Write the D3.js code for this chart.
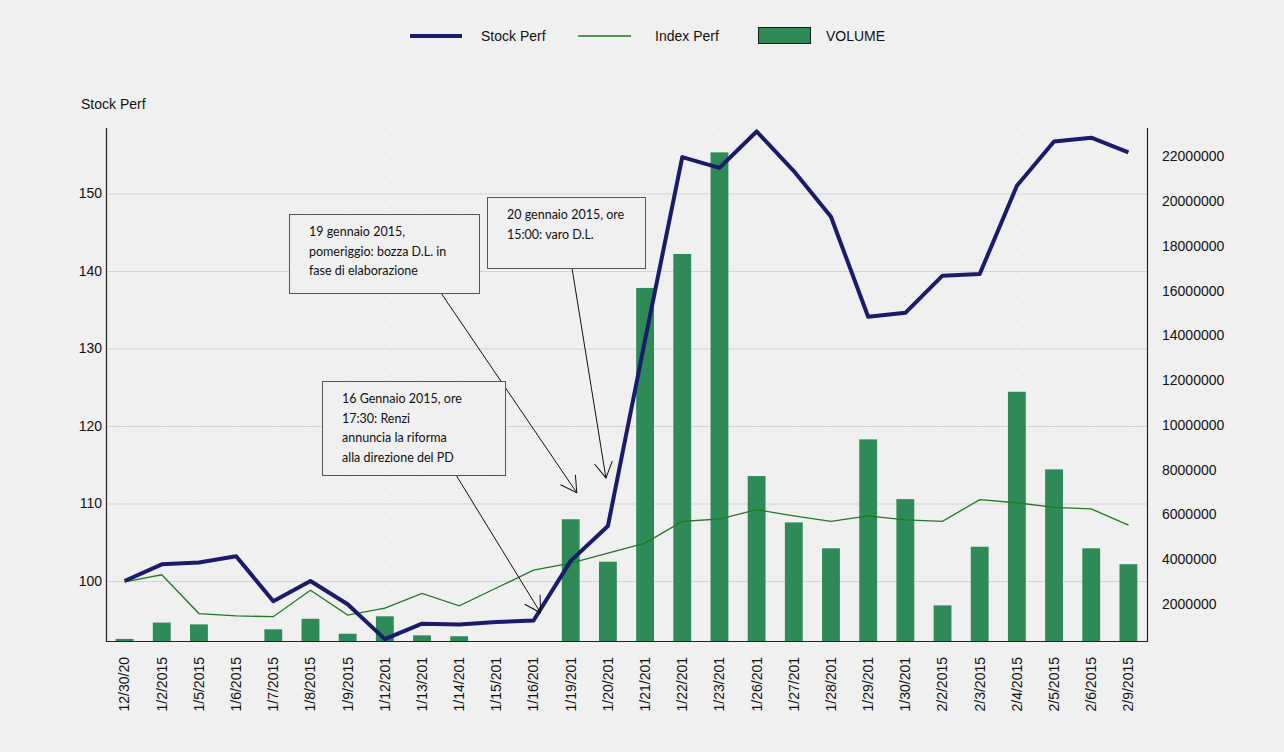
<!DOCTYPE html>
<html>
<head>
<meta charset="utf-8">
<script src="https://cdn.jsdelivr.net/npm/d3@7"></script>
<style>
  body { margin: 0; background: #f0f0f0; }
  svg { display: block; font-family: "Liberation Sans", Arial, sans-serif; }
</style>
</head>
<body>
<div id="chart"></div>
<script>
const w = 1284;
const h = 752;

// trading days (labels are cut to 8 chars like the original)
const dates = [
  "12/30/2014", "1/2/2015", "1/5/2015", "1/6/2015", "1/7/2015", "1/8/2015", "1/9/2015",
  "1/12/2015", "1/13/2015", "1/14/2015", "1/15/2015", "1/16/2015", "1/19/2015", "1/20/2015",
  "1/21/2015", "1/22/2015", "1/23/2015", "1/26/2015", "1/27/2015", "1/28/2015", "1/29/2015",
  "1/30/2015", "2/2/2015", "2/3/2015", "2/4/2015", "2/5/2015", "2/6/2015", "2/9/2015"
];

const stockPerf = [
  100.0, 102.15, 102.4, 103.2, 97.4, 100.0, 97.0, 92.5, 94.5, 94.4, 94.7, 94.9, 102.6, 107.1,
  131.1, 154.7, 153.3, 158.0, 152.9, 147.0, 134.1, 134.6, 139.4, 139.6, 151.0, 156.7, 157.2, 155.3
];

const indexPerf = [
  99.9, 100.8, 95.8, 95.5, 95.4, 98.8, 95.6, 96.5, 98.4, 96.8, 99.1, 101.4, 102.3, 103.6,
  104.9, 107.7, 108.0, 109.2, 108.4, 107.7, 108.4, 107.9, 107.7, 110.5, 110.1, 109.5, 109.3, 107.2
];

const volume = [
  430000, 1160000, 1080000, 0, 860000, 1330000, 660000, 1440000, 590000, 550000, 0, 0, 5780000, 3880000,
  16120000, 17640000, 22180000, 7710000, 5640000, 4480000, 9350000, 6680000, 1930000, 4550000,
  11480000, 8010000, 4480000, 3770000
];

const leftTicks = [100, 110, 120, 130, 140, 150];
const rightTicks = [2e6, 4e6, 6e6, 8e6, 10e6, 12e6, 14e6, 16e6, 18e6, 20e6, 22e6];

const legendNames = ["Stock Perf", "Index Perf", "VOLUME"];

const notes = [
  { lines: ["19 gennaio 2015,", "pomeriggio: bozza D.L. in", "fase di elaborazione"],
    box: [289, 214, 190, 79], from: [441, 293], date: "1/19/2015", dx: 6, value: 111.4 },
  { lines: ["20 gennaio 2015, ore", "15:00: varo D.L."],
    box: [487, 197, 158, 71], from: [572, 268], date: "1/20/2015", dx: -2, value: 113.3 },
  { lines: ["16 Gennaio 2015, ore", "17:30: Renzi", "annuncia la riforma", "alla direzione del PD"],
    box: [322, 381, 183, 94], from: [456, 475], date: "1/16/2015", dx: 7, value: 95.9 }
];

const m = { left: 106, right: 1147, top: 128, bottom: 641 };

const svg = d3.select("#chart")
  .append("svg")
  .attr("width", w)
  .attr("height", h);

svg.append("rect").attr("width", w).attr("height", h).attr("fill", "#f0f0f0");

const x = d3.scaleBand().domain(dates).range([m.left, m.right]).padding(0);
const cx = (d) => x(d) + x.bandwidth() / 2;

const yL = d3.scaleLinear().domain([92.26, 158.45]).range([m.bottom, m.top]);
const yR = d3.scaleLinear().domain([337000, 23270000]).range([m.bottom, m.top]);

// faint dotted grid
svg.append("g")
  .selectAll("line")
  .data(dates)
  .enter()
  .append("line")
  .attr("x1", (d) => cx(d)).attr("x2", (d) => cx(d))
  .attr("y1", m.top).attr("y2", m.bottom)
  .attr("stroke", "#d6d6d6")
  .attr("stroke-dasharray", "1,11");

svg.append("g")
  .selectAll("line")
  .data(leftTicks)
  .enter()
  .append("line")
  .attr("x1", m.left).attr("x2", m.right)
  .attr("y1", (d) => yL(d) + 0.5).attr("y2", (d) => yL(d) + 0.5)
  .attr("stroke", "#d4d4d4");

// volume bars
const barW = x.bandwidth() * 0.48;
svg.append("g")
  .selectAll("rect")
  .data(volume)
  .enter()
  .append("rect")
  .attr("x", (d, i) => cx(dates[i]) - barW / 2)
  .attr("y", (d) => Math.min(yR(d), m.bottom))
  .attr("width", barW)
  .attr("height", (d) => Math.max(0, m.bottom - yR(d)))
  .attr("fill", "#2e8b57");

// lines
const lineL = d3.line()
  .x((d, i) => cx(dates[i]))
  .y((d) => yL(d));

svg.append("path")
  .datum(indexPerf)
  .attr("d", lineL)
  .attr("fill", "none")
  .attr("stroke", "#1f7a1f")
  .attr("stroke-width", 1.3);

svg.append("path")
  .datum(stockPerf)
  .attr("d", lineL)
  .attr("fill", "none")
  .attr("stroke", "#1b1b6b")
  .attr("stroke-width", 4)
  .attr("stroke-linejoin", "round");

// axes
const axisL = svg.append("g")
  .attr("transform", `translate(${m.left},0)`)
  .call(d3.axisLeft(yL).tickValues(leftTicks).tickSize(0).tickPadding(4));
axisL.select(".domain").remove();
axisL.selectAll("text").attr("font-size", 14).attr("fill", "#111")
  .attr("font-family", "\"Liberation Sans\", Arial, sans-serif");

const axisR = svg.append("g")
  .attr("transform", `translate(${m.right},0)`)
  .call(d3.axisRight(yR).tickValues(rightTicks).tickSize(0).tickPadding(15).tickFormat(d3.format("d")));
axisR.select(".domain").remove();
axisR.selectAll("text").attr("font-size", 14).attr("fill", "#111")
  .attr("font-family", "\"Liberation Sans\", Arial, sans-serif");

const axisB = svg.append("g")
  .attr("transform", `translate(0,${m.bottom})`)
  .call(d3.axisBottom(x).tickSize(0).tickFormat((d) => d.slice(0, 8)));
axisB.select(".domain").remove();
axisB.selectAll("text")
  .attr("font-size", 14).attr("fill", "#111")
  .attr("font-family", "\"Liberation Sans\", Arial, sans-serif")
  .attr("text-anchor", "end")
  .attr("dy", "0.35em")
  .attr("transform", "translate(0,16) rotate(-90)")
  .attr("x", 0).attr("y", 0);

svg.append("path")
  .attr("d", `M${m.left + 0.5},${m.top}V${m.bottom + 0.5}H${m.right + 0.5}V${m.top}`)
  .attr("fill", "none")
  .attr("stroke", "#222")
  .attr("stroke-width", 1.2);

svg.append("text")
  .attr("x", 81).attr("y", 109)
  .attr("font-size", 14).attr("fill", "#111")
  .text("Stock Perf");

// legend
const lg = svg.append("g");
lg.append("line").attr("x1", 410).attr("x2", 462).attr("y1", 36).attr("y2", 36)
  .attr("stroke", "#1b1b6b").attr("stroke-width", 4);
lg.append("line").attr("x1", 578).attr("x2", 631).attr("y1", 36).attr("y2", 36)
  .attr("stroke", "#1f7a1f").attr("stroke-width", 1.3);
lg.append("rect").attr("x", 758.5).attr("y", 27.5).attr("width", 52).attr("height", 16)
  .attr("fill", "#2e8b57").attr("stroke", "#1a1a1a");
lg.selectAll("text")
  .data(legendNames)
  .enter()
  .append("text")
  .attr("x", (d, i) => [481, 655, 826][i])
  .attr("y", 41)
  .attr("font-size", 14).attr("fill", "#111")
  .text((d) => d);

// annotations
svg.append("defs").append("marker")
  .attr("id", "arr")
  .attr("markerUnits", "userSpaceOnUse")
  .attr("viewBox", "-18 -10 20 20")
  .attr("refX", 0).attr("refY", 0)
  .attr("markerWidth", 20).attr("markerHeight", 20)
  .attr("orient", "auto")
  .append("path")
  .attr("d", "M-15.6,-9 L0,0 L-15.6,9")
  .attr("fill", "none")
  .attr("stroke", "#111")
  .attr("stroke-width", 1);

const ann = svg.append("g").selectAll("g").data(notes).enter().append("g");

ann.append("line")
  .attr("x1", (d) => d.from[0]).attr("y1", (d) => d.from[1])
  .attr("x2", (d) => cx(d.date) + d.dx).attr("y2", (d) => yL(d.value))
  .attr("stroke", "#111").attr("stroke-width", 1)
  .attr("marker-end", "url(#arr)");

ann.append("rect")
  .attr("x", (d) => d.box[0] + 0.5).attr("y", (d) => d.box[1] + 0.5)
  .attr("width", (d) => d.box[2]).attr("height", (d) => d.box[3])
  .attr("fill", "#f0f0f0")
  .attr("stroke", "#555");

ann.each(function (d) {
  const g = d3.select(this);
  d.lines.forEach((t, k) => {
    g.append("text")
      .attr("x", d.box[0] + 20)
      .attr("y", d.box[1] + 22 + k * 19.5)
      .attr("font-family", "Lato, \"Open Sans\", sans-serif")
      .attr("font-size", 12.5)
      .attr("fill", "#111")
      .text(t);
  });
});
</script>
</body>
</html>
